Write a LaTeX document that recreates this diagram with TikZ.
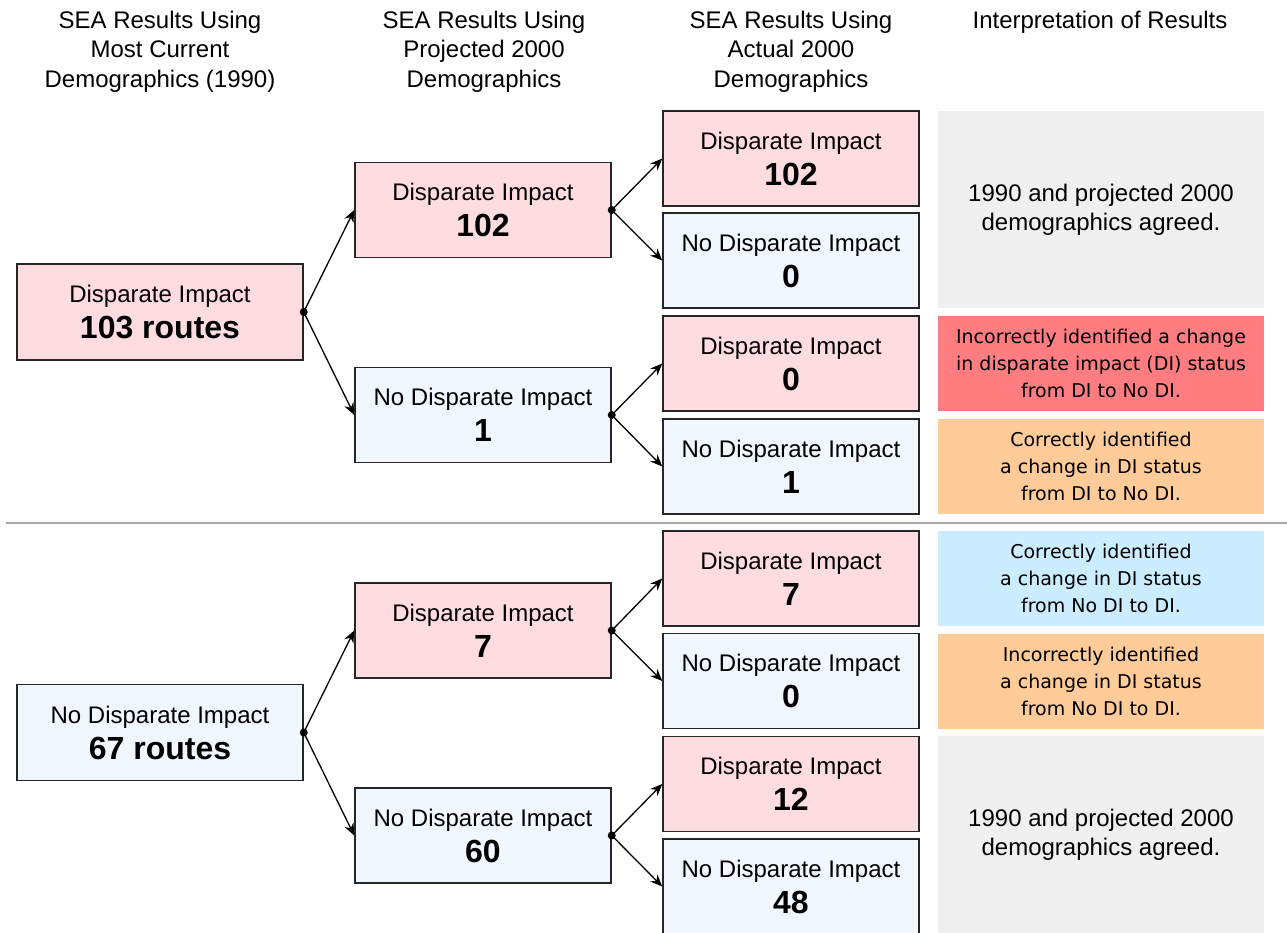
\documentclass[tikz,border=0pt]{standalone}
\usepackage{fontspec}
\setmainfont{Liberation Sans}
\newfontfamily\notefont{DejaVu Sans}
\usetikzlibrary{arrows.meta}
\definecolor{dipink}{RGB}{255,220,224}
\definecolor{nodiblue}{RGB}{240,247,255}
\definecolor{notegray}{RGB}{240,240,240}
\definecolor{notered}{RGB}{255,124,128}
\definecolor{noteorange}{RGB}{255,204,153}
\definecolor{noteblue}{RGB}{204,236,255}
\definecolor{boxline}{RGB}{38,38,38}
\definecolor{rulegray}{RGB}{166,166,166}

\newcommand{\bignum}[1]{{\fontsize{16}{18}\selectfont\bfseries #1}}

\tikzset{
  res/.style={draw=boxline, line width=0.75pt, align=center, inner sep=0pt,
    minimum width=128pt, minimum height=47.5pt, font=\fontsize{12}{18}\selectfont},
  di/.style={res, fill=dipink},
  nodi/.style={res, fill=nodiblue},
  rootbox/.style={minimum width=143pt, minimum height=48pt},
  note/.style={align=center, inner sep=0pt, minimum width=163pt, minimum height=47.5pt,
    font=\notefont\fontsize{9.5}{13.5}\selectfont},
  agreed/.style={note, fill=notegray, minimum height=98.5pt,
    font=\fontsize{12}{14.5}\selectfont},
  head/.style={align=center, font=\fontsize{12}{14.75}\selectfont},
  branch/.style={-{Stealth[length=6pt,width=5pt]}, line width=0.65pt},
}

\begin{document}
\begin{tikzpicture}[x=0.5pt,y=-0.5pt]
  \useasboundingbox (0,0) rectangle (1287,933);

  % column headings
  \node[head] (h1) at (160,51.5) {SEA Results Using\\Most Current\\Demographics (1990)};
  \node[head] (h2) at (484,51.5) {SEA Results Using\\Projected 2000\\Demographics};
  \node[head] (h3) at (791,51.5) {SEA Results Using\\Actual 2000\\Demographics};
  \node[head] (h4) at (1100,22) {Interpretation of Results};

  % upper tree: routes with disparate impact in 1990
  \node[di,rootbox] (root1) at (160,312) {Disparate Impact\\\bignum{103 routes}};
  \node[di] (mid1a) at (483,210) {Disparate Impact\\\bignum{102}};
  \node[nodi] (mid1b) at (483,415) {No Disparate Impact\\\bignum{1}};
  \node[di] (leaf1) at (791,158.5) {Disparate Impact\\\bignum{102}};
  \node[nodi] (leaf2) at (791,260.5) {No Disparate Impact\\\bignum{0}};
  \node[di] (leaf3) at (791,363.5) {Disparate Impact\\\bignum{0}};
  \node[nodi] (leaf4) at (791,466.5) {No Disparate Impact\\\bignum{1}};

  \node[agreed] (note1) at (1101,209.5) {1990 and projected 2000\\demographics agreed.};
  \node[note,fill=notered] (note2) at (1101,363.5)
    {Incorrectly identified a change\\in disparate impact (DI) status\\from DI to No DI.};
  \node[note,fill=noteorange] (note3) at (1101,466.5)
    {Correctly identified\\a change in DI status\\from DI to No DI.};

  % separator
  \draw[rulegray,line width=1pt] (6,523) -- (1287,523);

  % lower tree: routes with no disparate impact in 1990
  \node[nodi,rootbox] (root2) at (160,732.5) {No Disparate Impact\\\bignum{67 routes}};
  \node[di] (mid2a) at (483,630.5) {Disparate Impact\\\bignum{7}};
  \node[nodi] (mid2b) at (483,835.5) {No Disparate Impact\\\bignum{60}};
  \node[di] (leaf5) at (791,578.5) {Disparate Impact\\\bignum{7}};
  \node[nodi] (leaf6) at (791,681) {No Disparate Impact\\\bignum{0}};
  \node[di] (leaf7) at (791,784) {Disparate Impact\\\bignum{12}};
  \node[nodi] (leaf8) at (791,886.5) {No Disparate Impact\\\bignum{48}};

  \node[note,fill=noteblue] (note4) at (1101,578.5)
    {Correctly identified\\a change in DI status\\from No DI to DI.};
  \node[note,fill=noteorange] (note5) at (1101,681)
    {Incorrectly identified\\a change in DI status\\from No DI to DI.};
  \node[agreed] (note6) at (1101,834.5) {1990 and projected 2000\\demographics agreed.};

  % branches
  \foreach \a/\b in {root1/mid1a, root1/mid1b, mid1a/leaf1, mid1a/leaf2, mid1b/leaf3, mid1b/leaf4,
                     root2/mid2a, root2/mid2b, mid2a/leaf5, mid2a/leaf6, mid2b/leaf7, mid2b/leaf8}
    \draw[branch] (\a.east) -- (\b.west);
  \foreach \a in {root1, mid1a, mid1b, root2, mid2a, mid2b}
    \fill (\a.east) circle (2pt);
\end{tikzpicture}
\end{document}
